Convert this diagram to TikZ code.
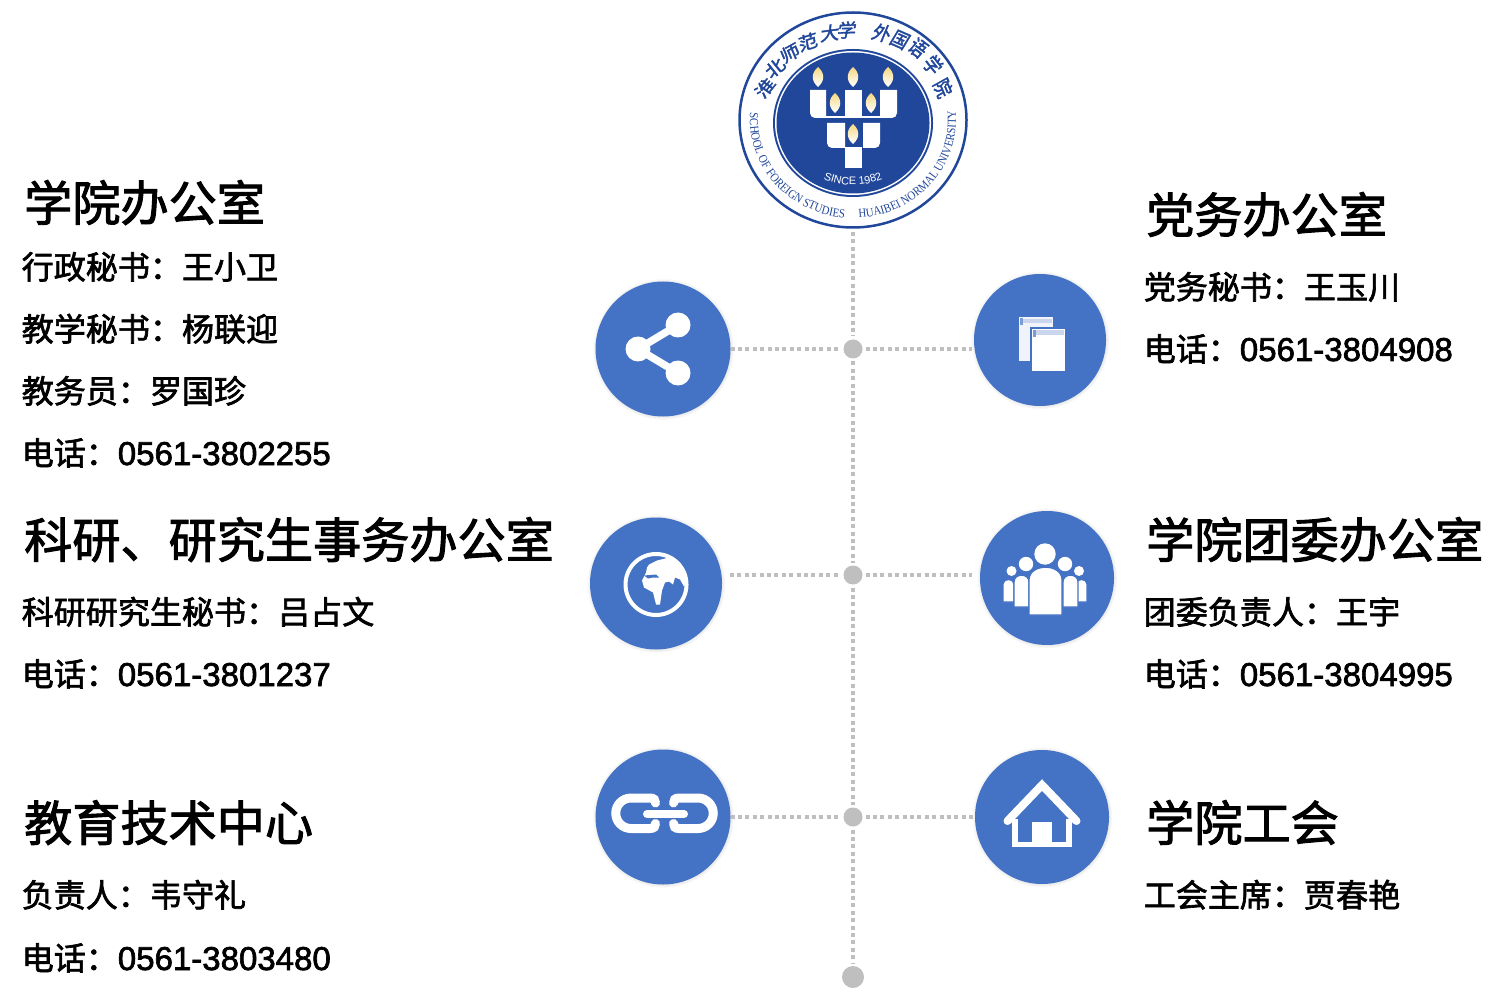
\documentclass[tikz,border=0pt]{standalone}
\usepackage{fontspec}
\setmainfont[FakeBold=2]{Noto Sans CJK SC}
\newfontfamily\numfont[Scale=1.03, FakeBold=2]{Liberation Sans}
\newfontfamily\logoserif[FakeStretch=.88]{Liberation Serif}
\newfontfamily\logosans{Liberation Sans}
\usepackage{tikz}
\usetikzlibrary{shapes.geometric, shadows, decorations.text}

\definecolor{iconblue}{HTML}{4472C4}
\definecolor{logoblue}{HTML}{21479B}
\definecolor{dotgray}{HTML}{BFBFBF}
\definecolor{paleblue}{HTML}{C9D6EE}
\definecolor{flameyellow}{HTML}{F4D77C}

\tikzset{
  headtext/.style={anchor=west, inner sep=0, font=\fontsize{13.7}{16}\selectfont, text height=.42cm, text depth=.06cm},
  bodytext/.style={anchor=west, inner sep=0, font=\fontsize{9.12}{11}\selectfont, text height=.28cm, text depth=.04cm},
  icondisc/.style={circle, fill=iconblue, inner sep=0, outer sep=0, minimum size=#1,
    circular drop shadow={shadow xshift=0pt, shadow yshift=0pt, shadow scale=1.05, opacity=.45}},
  hubdot/.style={circle, fill=dotgray, inner sep=0, outer sep=.03cm, minimum size=#1},
  dotline/.style={draw=dotgray, line width=.04cm, dash pattern=on .04cm off .034cm},
  flame/.style={top color=flameyellow, bottom color=white, middle color=flameyellow!45!white},
  logochar/.style={text=logoblue, inner sep=0, font=\fontsize{5.3}{6}\selectfont, xslant=.2}
}

\begin{document}
\begin{tikzpicture}[]
\useasboundingbox (0,0) rectangle (14.93,10.04);

% logo
\node (logo) at (8.53, 8.84) [ellipse, draw=logoblue, line width=.025cm, fill=white, inner sep=0, minimum width=2.27cm, minimum height=2.15cm] {};
\fill [logoblue] (8.53, 8.81) ellipse [x radius=.80, y radius=.74];
\fill [white] (8.53, 8.81) ellipse [x radius=.78, y radius=.72];
\fill [logoblue] (8.53, 8.81) ellipse [x radius=.765, y radius=.705];
\fill [white] (8.26, 9.14) -- (8.26, 8.86) [rounded corners=.05cm] -- (8.10, 8.86) [sharp corners] -- (8.10, 9.14) -- cycle;
\fill [white] (8.80, 9.14) -- (8.80, 8.86) [rounded corners=.05cm] -- (8.97, 8.86) [sharp corners] -- (8.97, 9.14) -- cycle;
\fill [white] (8.45, 9.14) rectangle (8.62, 8.86);
\fill [white] (8.45, 8.81) -- (8.45, 8.56) [rounded corners=.05cm] -- (8.27, 8.56) [sharp corners] -- (8.27, 8.81) -- cycle;
\fill [white] (8.63, 8.81) -- (8.63, 8.56) [rounded corners=.05cm] -- (8.80, 8.56) [sharp corners] -- (8.80, 8.81) -- cycle;
\fill [white] (8.45, 8.57) rectangle (8.62, 8.36);
\fill [white] (8.26, 8.875) rectangle (8.80, 8.86);
\foreach \x/\y in {8.18/9.27, 8.53/9.27, 8.88/9.27, 8.35/9.01, 8.71/9.01, 8.53/8.70}
  \shade [flame] (\x, \y+.10) .. controls (\x+.07, \y+.04) and (\x+.07, \y-.04) .. (\x, \y-.10) .. controls (\x-.07, \y-.04) and (\x-.07, \y+.04) .. (\x, \y+.10);
\path [decorate, decoration={text along path, text align=center, text={|\logoserif\fontsize{3.5}{4}\selectfont\color{logoblue}|SCHOOL OF FOREIGN STUDIES}}] (logo.center) ++(174:1.03 and .98) arc [start angle=174, end angle=267, x radius=1.03, y radius=.98];
\path [decorate, decoration={text along path, text align=center, text={|\logoserif\fontsize{3.5}{4}\selectfont\color{logoblue}|HUAIBEI NORMAL UNIVERSITY}}] (logo.center) ++(273:1.03 and .98) arc [start angle=273, end angle=366, x radius=1.03, y radius=.98];
\path [decorate, decoration={text along path, text align=center, text={|\logosans\fontsize{3.1}{4}\selectfont\color{white}|SINCE 1982}}] (8.53, 8.81) ++(238:.69 and .62) arc [start angle=238, end angle=302, x radius=.69, y radius=.62];
\foreach \ch/\x/\y/\r [count=\i] in {淮/7.65/9.16/58, 北/7.75/9.36/45, 师/7.90/9.51/32, 范/8.08/9.62/20, 大/8.30/9.71/8, 学/8.47/9.74/2, 外/8.82/9.71/-12, 国/9.00/9.64/-22, 语/9.18/9.56/-33, 学/9.33/9.39/-45, 院/9.43/9.16/-58}
  \node (logochar\i) at (\x, \y) [logochar, rotate=\r] {\ch};

% nodes
\node (share) at (6.63, 6.55) [icondisc=1.35cm] {};
\node (docs) at (10.40, 6.64) [icondisc=1.32cm] {};
\node (globe) at (6.56, 4.205) [icondisc=1.32cm] {};
\node (people) at (10.47, 4.26) [icondisc=1.34cm] {};
\node (link) at (6.63, 1.87) [icondisc=1.35cm] {};
\node (house) at (10.42, 1.87) [icondisc=1.34cm] {};

\node (hubA) at (8.53, 6.55) [hubdot=.19cm] {};
\node (hubB) at (8.53, 4.29) [hubdot=.19cm] {};
\node (hubC) at (8.53, 1.87) [hubdot=.19cm] {};
\node (hubD) at (8.53, .27) [hubdot=.22cm] {};

\coordinate (docsend) at (9.72, 6.55);
\coordinate (globeend) at (7.30, 4.29);
\coordinate (peopleend) at (9.72, 4.29);

% dotted lines
\draw [dotline, shorten <=.03cm] (logo) -- (hubA);
\draw [dotline] (hubA) -- (hubB);
\draw [dotline] (hubB) -- (hubC);
\draw [dotline] (hubC) -- (hubD);
\draw [dotline] (share) -- (hubA);
\draw [dotline] (hubA) -- (docsend);
\draw [dotline] (globeend) -- (hubB);
\draw [dotline] (hubB) -- (peopleend);
\draw [dotline] (link) -- (hubC);
\draw [dotline] (hubC) -- (house);

% share icon
\begin{scope}[shift={(share)}]
\draw [white, line width=.075cm] (.15, .24) -- (-.25, 0) -- (.15, -.24);
\fill [white] (.15, .24) circle (.125) (-.25, 0) circle (.125) (.15, -.24) circle (.125);
\end{scope}

% docs icon
\begin{scope}[shift={(docs)}]
\fill [white!92!iconblue] (-.21, .23) rectangle (.13, -.21);
\fill [paleblue] (-.18, .21) rectangle (.12, .17);
\fill [iconblue!70!white] (-.20, .22) rectangle (-.17, .15);
\fill [iconblue] (-.10, .125) rectangle (.26, -.32);
\fill [white] (-.08, .11) rectangle (.25, -.31);
\fill [paleblue] (-.05, .095) rectangle (.24, .055);
\fill [iconblue!70!white] (-.07, .10) rectangle (-.04, .03);
\end{scope}

% globe icon
\begin{scope}[shift={(globe)}]
\draw [white, line width=.04cm] (0, -.01) circle (.305);
\fill [white] (-.07, .19) -- (.01, .23) -- (.09, .25) -- (.16, .27) -- (.24, .21) -- (.30, .11) -- (.31, .03) -- (.28, -.03) -- (.24, .04) -- (.19, .06) -- (.17, -.01) -- (.13, .02) -- (.09, .01) -- (.06, -.07) -- (.04, -.21) -- (0, -.21) -- (-.03, -.09) -- (-.12, -.04) -- (-.14, .03) -- (-.10, .11) -- (-.09, .16) -- cycle;
\fill [iconblue] (-.12, .08) -- (0, .09) -- (.03, .06) -- (-.03, .06) -- (-.08, .05) -- cycle;
\end{scope}

% people icon
\begin{scope}[shift={(people)}]
\foreach \a/\b/\c/\d/\e in {-.44/-.24/-.06/0/-.33, .29/-.24/-.06/0/.40, -.33/-.29/-.04/.05/-.18, .16/-.29/-.04/.05/.31, -.18/-.37/-.02/.15/.15}
  \filldraw [fill=white, draw=iconblue, line width=.012cm] (\a, \b) -- (\a, \c) .. controls (\a, \d) and (\e, \d) .. (\e, \c) -- (\e, \b) -- cycle;
\fill [white] (-.02, .24) circle (.107) (-.21, .14) circle (.072) (.18, .14) circle (.072) (-.355, .07) circle (.05) (.32, .07) circle (.05);
\end{scope}

% link icon
\begin{scope}[shift={(link)}]
\draw [white, line width=.09cm, line cap=round] (-.075, .14) .. controls (-.075, .17) and (-.09, .19) .. (-.13, .19) -- (-.32, .19) arc [start angle=90, end angle=270, radius=.1525] -- (-.13, -.115) .. controls (-.09, -.115) and (-.075, -.095) .. (-.075, -.065);
\draw [white, line width=.09cm, line cap=round] (.105, .14) .. controls (.105, .17) and (.12, .19) .. (.16, .19) -- (.35, .19) arc [start angle=90, end angle=-90, radius=.1525] -- (.16, -.115) .. controls (.12, -.115) and (.105, -.095) .. (.105, -.065);
\draw [white, line width=.08cm, line cap=round] (-.16, .03) -- (.21, .03);
\end{scope}

% house icon
\begin{scope}[shift={(house)}]
\draw [white, line width=.08cm, line cap=round] (-.345, -.04) -- (0, .32) -- (.345, -.04);
\draw [white, line width=.055cm] (-.27, -.02) -- (-.27, -.275) -- (.27, -.275) -- (.27, -.02);
\fill [white] (-.10, -.05) rectangle (.10, -.26);
\end{scope}

% left texts
\node (adminhead) at (.235, 8.01) [headtext] {学院办公室};
\node (adminA) at (.21, 7.37) [bodytext] {行政秘书：王小卫};
\node (adminB) at (.21, 6.75) [bodytext] {教学秘书：杨联迎};
\node (adminC) at (.21, 6.13) [bodytext] {教务员：罗国珍};
\node (adminD) at (.21, 5.51) [bodytext] {电话：{\numfont 0561-3802255}};

\node (researchhead) at (.235, 4.64) [headtext] {科研、研究生事务办公室};
\node (researchA) at (.21, 3.92) [bodytext] {科研研究生秘书：吕占文};
\node (researchB) at (.21, 3.30) [bodytext] {电话：{\numfont 0561-3801237}};

\node (techhead) at (.235, 1.81) [headtext] {教育技术中心};
\node (techA) at (.21, 1.09) [bodytext] {负责人：韦守礼};
\node (techB) at (.21, .46) [bodytext] {电话：{\numfont 0561-3803480}};

% right texts
\node (partyhead) at (11.455, 7.89) [headtext] {党务办公室};
\node (partyA) at (11.43, 7.17) [bodytext] {党务秘书：王玉川};
\node (partyB) at (11.43, 6.55) [bodytext] {电话：{\numfont 0561-3804908}};

\node (youthhead) at (11.455, 4.64) [headtext] {学院团委办公室};
\node (youthA) at (11.43, 3.92) [bodytext] {团委负责人：王宇};
\node (youthB) at (11.43, 3.30) [bodytext] {电话：{\numfont 0561-3804995}};

\node (unionhead) at (11.455, 1.81) [headtext] {学院工会};
\node (unionA) at (11.43, 1.09) [bodytext] {工会主席：贾春艳};

\end{tikzpicture}
\end{document}
